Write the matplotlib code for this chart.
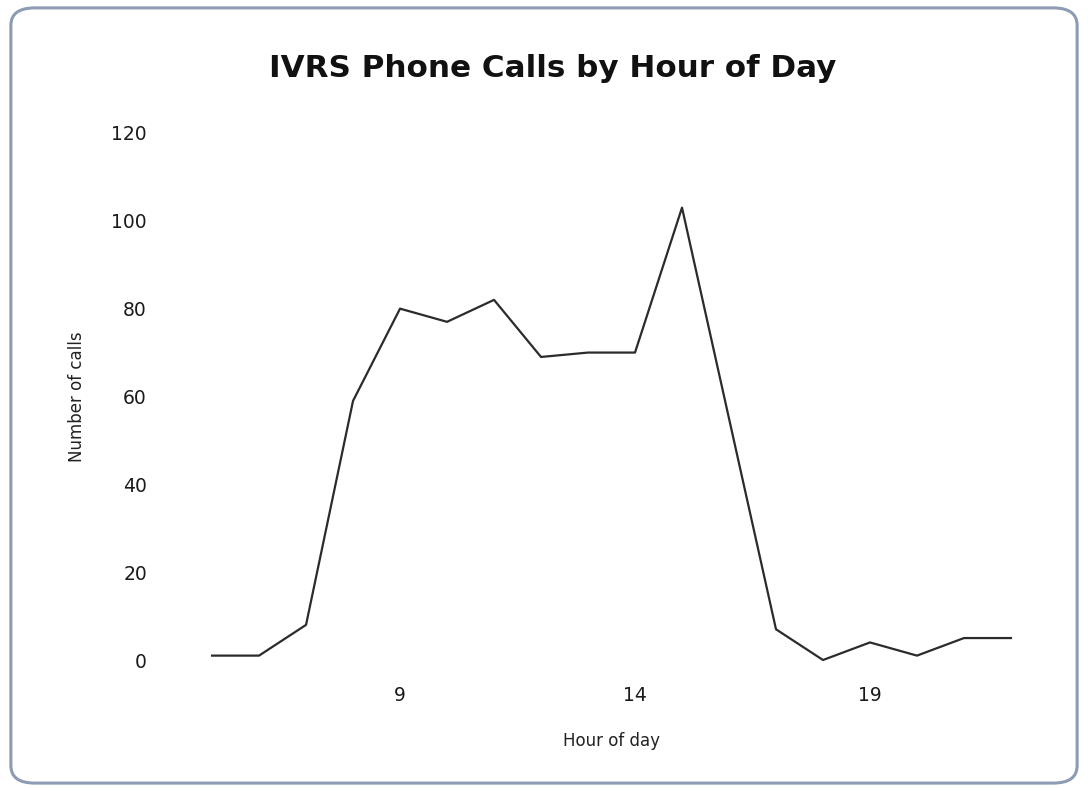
import matplotlib.pyplot as plt
from matplotlib.patches import FancyBboxPatch

# данные: часы суток и количество звонков
hours = [5, 6, 7, 8, 9, 10, 11, 12, 13, 14, 15, 16, 17, 18, 19, 20, 21, 22]
calls = [1, 1, 8, 59, 80, 77, 82, 69, 70, 70, 103, 55, 7, 0, 4, 1, 5, 5]
x_ticks = [9, 14, 19]
y_ticks = [0, 20, 40, 60, 80, 100, 120]

plt.rcParams['font.family'] = 'DejaVu Sans'

fig = plt.figure(figsize=(10.88, 7.91), dpi=100)
ax = fig.add_axes([0.1517, 0.1656, 0.8207, 0.6663])

# рамка вокруг графика (скругленная)
border = FancyBboxPatch((0.010, 0.010), 0.980, 0.980,
                        boxstyle='round,pad=0,rounding_size=0.022',
                        transform=fig.transFigure, fill=False,
                        edgecolor='#8d9cb4', linewidth=2.2, zorder=0)
fig.patches.append(border)

ax.plot(hours, calls, color='#2b2b2b', linewidth=1.6, clip_on=False)

ax.set_xlim(4, 23)
ax.set_ylim(0, 120)
ax.set_xticks(x_ticks)
ax.set_yticks(y_ticks)
ax.tick_params(axis='both', length=0, labelsize=13.5, colors='#1a1a1a')
ax.tick_params(axis='y', pad=13)
ax.tick_params(axis='x', pad=19)
for s in ax.spines.values():
    s.set_visible(False)

# заголовок по центру рисунка
fig.text(0.508, 0.914, 'IVRS Phone Calls by Hour of Day', fontsize=22.3,
         fontweight='bold', ha='center', va='center', color='#111111')
ax.set_xlabel('Hour of day', fontsize=12, labelpad=19, color='#222222')
ax.set_ylabel('Number of calls', fontsize=12, color='#222222')
ax.yaxis.set_label_coords(-0.088, 0.5)

fig.savefig('out.png', dpi=100)
